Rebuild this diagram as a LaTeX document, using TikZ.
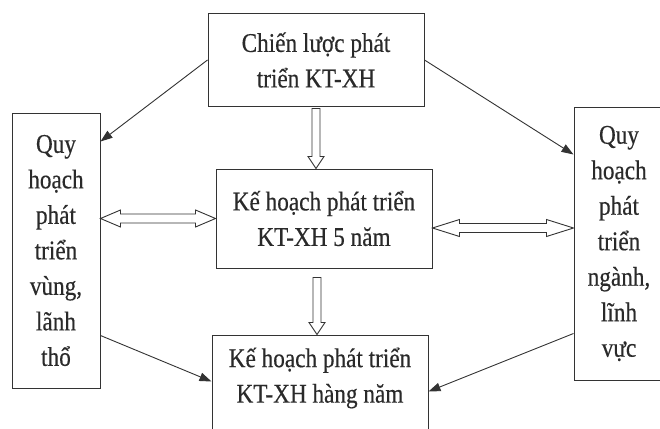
\documentclass[tikz,border=0pt]{standalone}
\usepackage{fontspec}
\setmainfont[FakeStretch=0.86,FakeBold=0.4]{Liberation Serif}
\usetikzlibrary{calc,arrows.meta}
\definecolor{ink}{HTML}{333333}
\definecolor{txtc}{HTML}{2A2A2A}
% hollow single arrow pointing down: #1 start, #2 tip
\newcommand\hollowdown[2]{%
  \draw[hollow] ($(#1)+(-4,0)$) -- ($(#2)+(-4,-12)$) -- ($(#2)+(-8,-12)$) -- (#2)
    -- ($(#2)+(8,-12)$) -- ($(#2)+(4,-12)$) -- ($(#1)+(4,0)$) -- cycle;}
% hollow double arrow, horizontal: #1 left tip, #2 right tip, #3 head length
\newcommand\hollowboth[3]{%
  \draw[hollow] (#1) -- ($(#1)+(#3,-8.5)$) -- ($(#1)+(#3,-4.5)$) -- ($(#2)+(-#3,-4.5)$)
    -- ($(#2)+(-#3,-8.5)$) -- (#2) -- ($(#2)+(-#3,8.5)$) -- ($(#2)+(-#3,4.5)$)
    -- ($(#1)+(#3,4.5)$) -- ($(#1)+(#3,8.5)$) -- cycle;}
\begin{document}
\begin{tikzpicture}[x=1pt,y=-1pt,
  box/.style={draw=ink, line width=1pt, fill=white, inner sep=0pt, align=center,
    text=txtc, font=\fontsize{27}{35.5}\selectfont},
  lbl/.style={inner sep=0pt, align=center, text=txtc, font=\fontsize{27}{35.5}\selectfont},
  hollow/.style={draw=ink, line width=0.9pt, fill=white, line join=miter},
  thin/.style={draw=ink, line width=0.9pt, -{Triangle[length=12pt,width=8.5pt]}}]
\clip (0,0) rectangle (660,428);
\fill[white] (0,0) rectangle (660,428);

\node[box, minimum width=216pt, minimum height=92pt] (top) at (316,60)
  {Chiến lược phát\\triển KT-XH};
\node[box, minimum width=216pt, minimum height=99pt] (mid) at (324,218.5)
  {Kế hoạch phát triển\\KT-XH 5 năm};
\node[box, minimum width=88pt, minimum height=275pt] (left) at (56,250.5)
  {Quy\\hoạch\\phát\\triển\\vùng,\\lãnh\\thổ};
\node[box, minimum width=90pt, minimum height=273pt] (right) at (619,243.5)
  {Quy\\hoạch\\phát\\triển\\ngành,\\lĩnh\\vực};
\node[box, minimum width=216pt, minimum height=110pt] (bot) at (320,390) {};
\node[lbl] (bottxt) at (bot.center |- 0,378) {Kế hoạch phát triển\\KT-XH hàng năm};

% thin arrows
\draw[thin] (top.west) -- ($(left.north east)+(0,29)$);
\draw[thin] (top.east) -- ($(right.north west)+(0,48)$);
\draw[thin] ($(left.south east)+(0,-53)$) -- ($(bot.north west)+(0,47)$);
\draw[thin] ($(right.south west)+(0,-47)$) -- ($(bot.north east)+(0,57)$);

% hollow arrows
\coordinate (a1) at ($(top.south)+(0,2)$);
\coordinate (a1t) at (a1 |- mid.north);
\hollowdown{a1}{a1t}
\coordinate (a2) at ($(mid.south)+(-7,9)$);
\coordinate (a2t) at (a2 |- bot.north);
\hollowdown{a2}{a2t}
\coordinate (b1) at (left.east |- mid.center);
\coordinate (b1t) at (mid.west);
\hollowboth{b1}{b1t}{20}
\coordinate (c1) at ($(mid.east)+(0,9.5)$);
\coordinate (c1t) at (right.west |- c1);
\hollowboth{c1}{c1t}{27}
\end{tikzpicture}
\end{document}
